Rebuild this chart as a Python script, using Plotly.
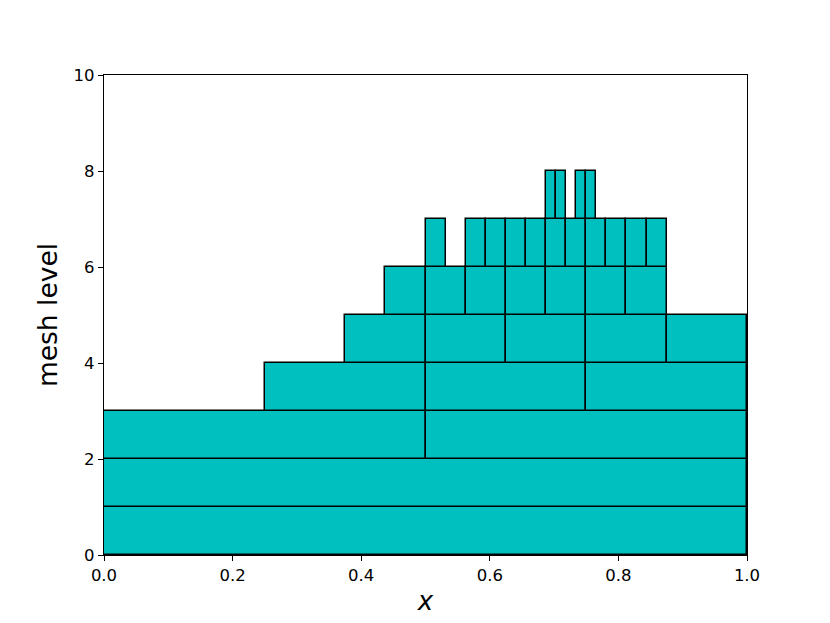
import plotly.graph_objects as go

# Mesh cells: per level, left edges of cells and the cell width at that level
levels = [1, 2, 3, 4, 5, 6, 7, 8]
cell_widths = [1.0, 1.0, 0.5, 0.25, 0.125, 0.0625, 0.03125, 0.015625]
level1_left = [0.0]
level2_left = [0.0]
level3_left = [0.0, 0.5]
level4_left = [0.25, 0.5, 0.75]
level5_left = [0.375, 0.5, 0.625, 0.75, 0.875]
level6_left = [0.4375, 0.5, 0.5625, 0.625, 0.6875, 0.75, 0.8125]
level7_left = [0.5, 0.5625, 0.59375, 0.625, 0.65625, 0.6875, 0.71875,
               0.75, 0.78125, 0.8125, 0.84375]
level8_left = [0.6875, 0.703125, 0.734375, 0.75]
lefts_by_level = [level1_left, level2_left, level3_left, level4_left,
                  level5_left, level6_left, level7_left, level8_left]

xs, ws, bases, hs = [], [], [], []
for lev, w, lefts in zip(levels, cell_widths, lefts_by_level):
    for l in lefts:
        xs.append(l + w / 2)
        ws.append(w)
        bases.append(lev - 1)
        hs.append(1)

fig = go.Figure(go.Bar(
    x=xs, y=hs, base=bases, width=ws,
    marker=dict(color="#00BFBF", line=dict(color="black", width=1.5)),
    hoverinfo="skip",
))

axis_common = dict(
    showline=True, linecolor="black", linewidth=1.3, mirror=True,
    ticks="outside", ticklen=5, tickwidth=1.2, tickcolor="black",
    showgrid=False, zeroline=False, automargin=False,
    tickfont=dict(family="DejaVu Sans", size=16.5, color="black"),
)

fig.update_layout(
    width=830, height=623,
    paper_bgcolor="white", plot_bgcolor="white",
    margin=dict(l=96, r=91, t=67, b=76),
    showlegend=False, bargap=0,
    xaxis=dict(range=[0, 1], tickvals=[0, 0.2, 0.4, 0.6, 0.8, 1.0],
               ticktext=["0.0", "0.2", "0.4", "0.6", "0.8", "1.0"],
               title=dict(text="<i>x</i>", font=dict(family="DejaVu Sans", size=26, color="black"),
                          standoff=7),
               **axis_common),
    yaxis=dict(range=[0, 10], tickvals=[0, 2, 4, 6, 8, 10],
               title=dict(text="mesh level", font=dict(family="DejaVu Sans", size=26.5, color="black"),
                          standoff=8),
               **axis_common),
)

fig.write_html("out.html")
